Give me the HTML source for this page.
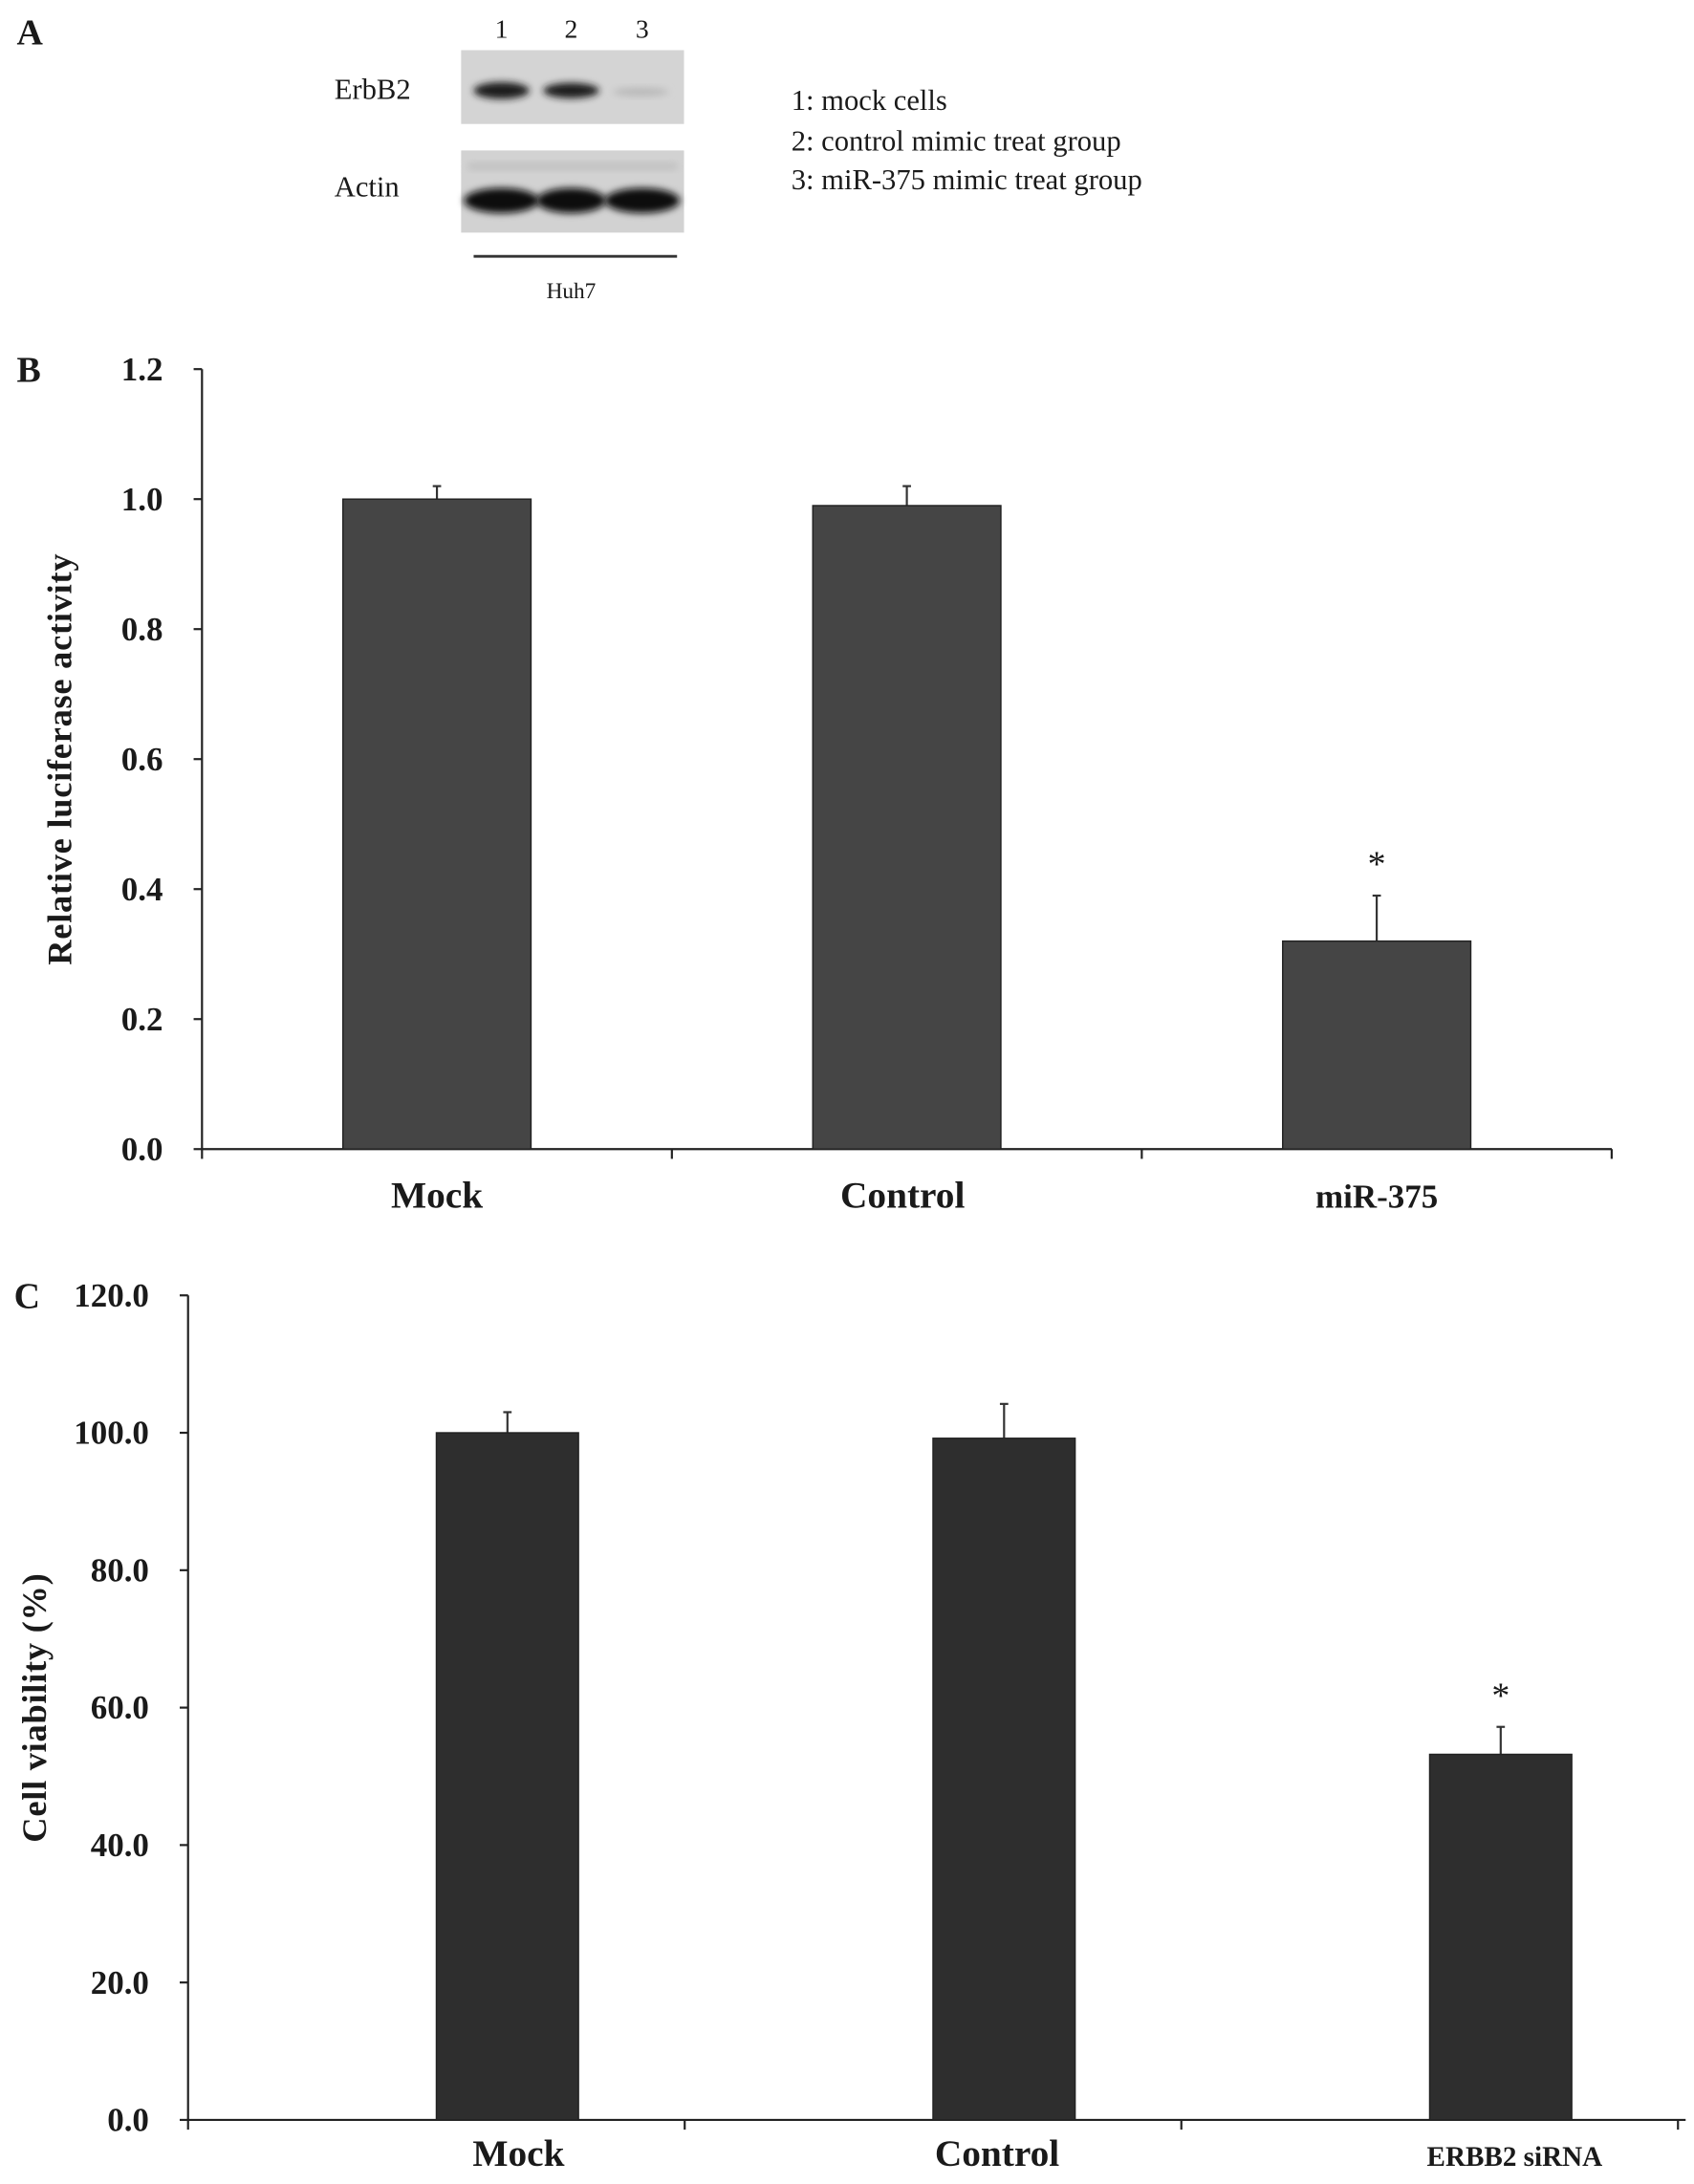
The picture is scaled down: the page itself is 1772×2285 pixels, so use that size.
<!DOCTYPE html>
<html><head><meta charset="utf-8"><style>
html,body{margin:0;padding:0;background:#fff;}
svg{display:block;}
text{font-family:"Liberation Serif",serif;fill:#1a1a1a;}
</style></head><body>
<svg id="fig" width="1772" height="2285" viewBox="0 0 1216 1568" xmlns="http://www.w3.org/2000/svg">
<defs>
<filter id="blur" x="-20%" y="-50%" width="140%" height="200%"><feGaussianBlur stdDeviation="2.5"/></filter>
</defs>
<g>
<text x="12" y="32" font-size="26" font-weight="bold">A</text>
<text x="360" y="27" font-size="19" text-anchor="middle">1</text>
<text x="410" y="27" font-size="19" text-anchor="middle">2</text>
<text x="461" y="27" font-size="19" text-anchor="middle">3</text>
<text x="240" y="71" font-size="21">ErbB2</text>
<text x="240" y="141" font-size="21">Actin</text>
<rect x="331" y="36" width="160" height="53" fill="#d4d4d4"/>
<ellipse cx="360" cy="65" rx="20" ry="6" fill="#1c1c1c" filter="url(#blur)"/>
<ellipse cx="410" cy="65" rx="20" ry="5.5" fill="#1c1c1c" filter="url(#blur)"/>
<ellipse cx="460" cy="66" rx="20" ry="3" fill="#b8b8b8" filter="url(#blur)"/>
<rect x="331" y="108" width="160" height="59" fill="#d2d2d2"/>
<rect x="336" y="117" width="150" height="5" fill="#c0c0c0" filter="url(#blur)"/>
<ellipse cx="360" cy="144" rx="27" ry="9" fill="#0f0f0f" filter="url(#blur)"/>
<ellipse cx="410" cy="144" rx="25" ry="9" fill="#0f0f0f" filter="url(#blur)"/>
<ellipse cx="461" cy="144" rx="27" ry="9" fill="#0f0f0f" filter="url(#blur)"/>
<line x1="340" y1="184" x2="486" y2="184" stroke="#333" stroke-width="2"/>
<text x="410" y="214" font-size="16" text-anchor="middle">Huh7</text>
<text x="568" y="79" font-size="21">1:  mock cells</text>
<text x="568" y="108" font-size="21">2:  control mimic treat group</text>
<text x="568" y="136" font-size="21">3:  miR-375 mimic treat group</text>
</g>
<g id="chartB"></g>
<g id="chartC"></g>
</svg>
<script>
const NS="http://www.w3.org/2000/svg";
// Panel B data
const bCategories=["Mock","Control","miR-375"];
const bValues=[1.00,0.99,0.32];
const bErrors=[0.02,0.03,0.07];
const bTicks=[0,0.2,0.4,0.6,0.8,1.0,1.2];
const bTickLabels=["0.0","0.2","0.4","0.6","0.8","1.0","1.2"];
const bStars=[false,false,true];
// Panel C data
const cCategories=["Mock","Control","ERBB2 siRNA"];
const cValues=[100.0,99.2,53.2];
const cErrors=[3.0,5.0,4.0];
const cTicks=[0,20,40,60,80,100,120];
const cTickLabels=["0.0","20.0","40.0","60.0","80.0","100.0","120.0"];
const cStars=[false,false,true];

function mk(tag,attrs,parent,text){const e=document.createElementNS(NS,tag);for(const k in attrs)e.setAttribute(k,attrs[k]);if(text!==undefined)e.textContent=text;parent.appendChild(e);return e;}

function drawChart(g,cfg){
  const y=v=>cfg.y0-(v-cfg.vmin)/(cfg.vmax-cfg.vmin)*(cfg.y0-cfg.yTop);
  const n=cfg.cats.length, band=cfg.band;
  const x=i=>cfg.x0+band*(i+0.5)+cfg.off;
  let e=mk("line",{x1:cfg.x0,y1:cfg.yTop,x2:cfg.x0,y2:cfg.y0,stroke:"#222","stroke-width":1.5},g);
  
  
  e=mk("line",{x1:cfg.x0,y1:cfg.y0,x2:cfg.xEnd,y2:cfg.y0,stroke:"#222","stroke-width":1.5},g);
  
  
  for(let i=0;i<=n;i++){
    const tx=cfg.x0+band*i;
    if(tx>cfg.xEnd+1) continue;
    e=mk("line",{x1:tx,y1:cfg.y0,x2:tx,y2:cfg.y0+7,stroke:"#222","stroke-width":1.5},g);
    
    
  }
  cfg.ticks.forEach((t,i)=>{
    e=mk("line",{x1:cfg.x0-6,y1:y(t),x2:cfg.x0,y2:y(t),stroke:"#222","stroke-width":1.5},g);
    
    
    e=mk("text",{x:cfg.x0-28,y:y(t)+8,"font-size":24,"font-weight":"bold","text-anchor":"end"},g,cfg.tickLabels[i]);
    
    
  });
  cfg.cats.forEach((c,i)=>{
    const cx=x(i), top=y(cfg.vals[i]);
    const eb=y(cfg.vals[i]+cfg.errs[i]);
    e=mk("line",{x1:cx,y1:eb,x2:cx,y2:top,stroke:"#333","stroke-width":1.5},g);
    
    
    e=mk("line",{x1:cx-3,y1:eb,x2:cx+3,y2:eb,stroke:"#333","stroke-width":1.5},g);
    
    
    e=mk("rect",{x:cx-cfg.bw/2,y:top,width:cfg.bw,height:cfg.y0-top,fill:cfg.fill,stroke:"#222","stroke-width":1},g);
    
    
    if(cfg.stars[i]){
      e=mk("text",{x:cx,y:eb-14,"font-size":26,"text-anchor":"middle"},g,"*");
      
      
    }
    e=mk("text",{x:cx+cfg.labOff[i],y:cfg.y0+cfg.labDy,"font-size":i===2?cfg.lastFs:27,"font-weight":"bold","text-anchor":"middle"},g,c);
    
    
  });
  e=mk("text",{x:0,y:0,"font-size":25,"font-weight":"bold","text-anchor":"middle",transform:`translate(${cfg.titleX},${(cfg.yTop+cfg.y0)/2}) rotate(-90)`,"letter-spacing":"0.5"},g,cfg.title);
  
  
  e=mk("text",{x:cfg.labelX,y:cfg.yTop+9,"font-size":26,"font-weight":"bold"},g,cfg.panel);
  
  
}
drawChart(document.getElementById("chartB"),{x0:145,xEnd:1157,band:337.3,off:0,yTop:265,y0:825,vmin:0,vmax:1.2,bw:135,fill:"#454545",
  cats:bCategories,vals:bValues,errs:bErrors,ticks:bTicks,tickLabels:bTickLabels,stars:bStars,title:"Relative luciferase activity",titleX:51,panel:"B",labelX:12,lastFs:24,labOff:[0,-3,0],labDy:42});
drawChart(document.getElementById("chartC"),{x0:135,xEnd:1210,band:356.5,off:51,yTop:930,y0:1522,vmin:0,vmax:120,bw:102,fill:"#2e2e2e",
  cats:cCategories,vals:cValues,errs:cErrors,ticks:cTicks,tickLabels:cTickLabels,stars:cStars,title:"Cell viability  (%)",titleX:33,panel:"C",labelX:10,lastFs:20,labOff:[8,-5,10],labDy:33});
</script>
</body></html>
